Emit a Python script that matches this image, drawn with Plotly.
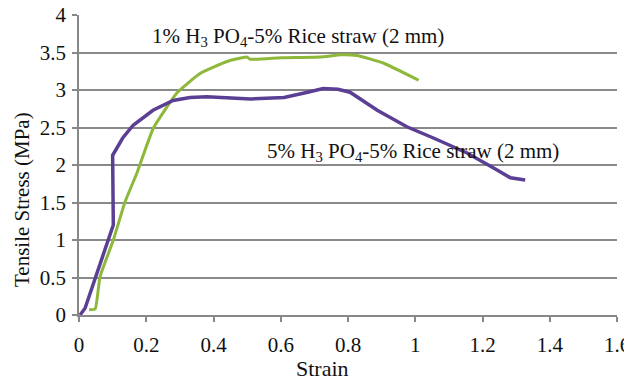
import plotly.graph_objects as go

# Data
strain_1pct = [0.03, 0.048, 0.0625, 0.102, 0.137, 0.172, 0.221, 0.291, 0.36, 0.44, 0.499, 0.509, 0.6, 0.717, 0.78, 0.826, 0.905, 1.01]
stress_1pct = [0.07, 0.08, 0.51, 1.0, 1.51, 1.89, 2.49, 2.96, 3.22, 3.38, 3.44, 3.41, 3.43, 3.44, 3.47, 3.46, 3.36, 3.13]

strain_5pct = [0.003, 0.018, 0.102, 0.1, 0.13, 0.161, 0.22, 0.28, 0.33, 0.38, 0.51, 0.61, 0.68, 0.726, 0.77, 0.806, 0.887, 0.975, 1.054, 1.154, 1.233, 1.283, 1.327]
stress_5pct = [0.0, 0.09, 1.2, 2.13, 2.36, 2.53, 2.73, 2.86, 2.9, 2.91, 2.88, 2.9, 2.97, 3.02, 3.01, 2.97, 2.73, 2.51, 2.36, 2.16, 1.96, 1.83, 1.8]

x_ticks = [0, 0.2, 0.4, 0.6, 0.8, 1, 1.2, 1.4, 1.6]
y_ticks = [0, 0.5, 1, 1.5, 2, 2.5, 3, 3.5, 4]

FONT = "Liberation Serif"

fig = go.Figure()
fig.add_trace(go.Scatter(x=strain_1pct, y=stress_1pct, mode="lines",
                         line=dict(color="#8db83a", width=3, shape="spline", smoothing=0.4),
                         showlegend=False))
fig.add_trace(go.Scatter(x=strain_5pct, y=stress_5pct, mode="lines",
                         line=dict(color="#5a3f94", width=3.5),
                         showlegend=False))

fig.add_annotation(x=0.211, y=3.71, xref="x", yref="y", xanchor="left", yanchor="middle",
                   text="1% H<sub>3</sub> PO<sub>4</sub>-5% Rice straw (2 mm)",
                   showarrow=False, font=dict(family=FONT, size=21, color="#111"))
fig.add_annotation(x=0.552, y=2.18, xref="x", yref="y", xanchor="left", yanchor="middle",
                   text="5% H<sub>3</sub> PO<sub>4</sub>-5% Rice straw (2 mm)",
                   showarrow=False, font=dict(family=FONT, size=21, color="#111"))

fig.add_annotation(x=22, y=200, xref="paper", yref="paper", text="Tensile Stress (MPa)",
                   textangle=-90, showarrow=False, xanchor="center", yanchor="middle",
                   font=dict(family=FONT, size=21, color="#111"))
fig.add_annotation(x=322, y=368, xref="paper", yref="paper", text="Strain",
                   showarrow=False, xanchor="center", yanchor="middle",
                   font=dict(family=FONT, size=22, color="#111"))

# convert paper annotations from pixel coordinates
L, R, T, B = 79, 7, 15, 65
W, H = 624, 380
pw, ph = W - L - R, H - T - B
for a in fig.layout.annotations[2:]:
    a.x = (a.x - L) / pw
    a.y = (H - a.y - B) / ph

fig.update_xaxes(range=[0, 1.6], tickvals=x_ticks, ticktext=[str(v) for v in x_ticks],
                 showgrid=False, zeroline=False, showline=True, linecolor="#888", linewidth=1.5,
                 ticks="outside", ticklen=5, tickcolor="#888", tickwidth=1.5,
                 ticklabeloverflow="allow", automargin=False, ticklabelstandoff=5,
                 tickfont=dict(family=FONT, size=21, color="#111"))
fig.update_yaxes(range=[0, 4], tickvals=y_ticks, ticktext=[str(v) for v in y_ticks],
                 showgrid=True, gridcolor="#8a8a8a", gridwidth=1.5, zeroline=False,
                 showline=True, linecolor="#888", linewidth=1.5,
                 ticks="outside", ticklen=5, tickcolor="#888", tickwidth=1.5,
                 ticklabeloverflow="allow", automargin=False, ticklabelstandoff=2,
                 tickfont=dict(family=FONT, size=21, color="#111"))

fig.update_layout(width=W, height=H, margin=dict(l=L, r=R, t=T, b=B),
                  plot_bgcolor="white", paper_bgcolor="white")

fig.write_html("out.html")
